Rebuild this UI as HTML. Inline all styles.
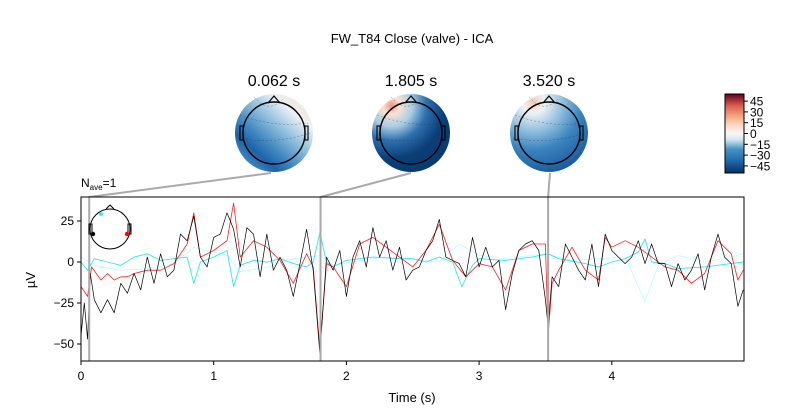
<!DOCTYPE html>
<html><head><meta charset="utf-8"><style>
body{margin:0;background:#fff;}
svg{display:block;font-family:"Liberation Sans","DejaVu Sans",sans-serif;}
</style></head><body>
<svg id="fig" width="800" height="420" viewBox="0 0 800 420" xmlns="http://www.w3.org/2000/svg">
<defs>
<linearGradient id="cbar" x1="0" y1="1" x2="0" y2="0">
<stop offset="0" stop-color="#053061"/><stop offset="0.15" stop-color="#2166ac"/><stop offset="0.3" stop-color="#4393c3"/><stop offset="0.42" stop-color="#d1e5f0"/><stop offset="0.5" stop-color="#f7f7f7"/><stop offset="0.6" stop-color="#fddbc7"/><stop offset="0.72" stop-color="#f4a582"/><stop offset="0.85" stop-color="#d6604d"/><stop offset="1" stop-color="#67001f"/>
</linearGradient>
<linearGradient id="t1" x1="0.85" y1="0.05" x2="0.15" y2="0.85">
<stop offset="0" stop-color="#fbe0d2"/><stop offset="0.2" stop-color="#e9f1f6"/><stop offset="0.45" stop-color="#8dbddc"/><stop offset="0.7" stop-color="#3b84bf"/><stop offset="0.85" stop-color="#1f62a6"/><stop offset="1" stop-color="#3a83be"/>
</linearGradient>
<radialGradient id="t2" cx="0.25" cy="0.15" r="0.9">
<stop offset="0" stop-color="#e8957a"/><stop offset="0.12" stop-color="#f8e2d6"/><stop offset="0.3" stop-color="#a9cde4"/><stop offset="0.5" stop-color="#2d6fae"/><stop offset="0.75" stop-color="#0b3f78"/><stop offset="1" stop-color="#0a3a70"/>
</radialGradient>
<radialGradient id="t3" cx="0.3" cy="0.1" r="0.95">
<stop offset="0" stop-color="#f4c9b2"/><stop offset="0.15" stop-color="#eef3f6"/><stop offset="0.4" stop-color="#8fbedd"/><stop offset="0.65" stop-color="#3a83be"/><stop offset="1" stop-color="#1c5a9a"/>
</radialGradient>
<clipPath id="plotclip"><rect x="81" y="197" width="663" height="164"/></clipPath>
</defs>
<text x="412" y="43" font-size="13" text-anchor="middle">FW_T84 Close (valve) - ICA</text>
<g id="topos"></g>
<g>
<rect x="725" y="94" width="19" height="79" fill="url(#cbar)" stroke="#000" stroke-width="1"/>
<g id="cbticks"></g>
</g>
<g id="connectors"></g>
<text x="81" y="187" font-size="12">N<tspan font-size="8" dy="3">ave</tspan><tspan dy="-3">=1</tspan></text>
<g id="plot"></g>
<text x="412" y="402" font-size="13" text-anchor="middle">Time (s)</text>
<text x="35" y="280" font-size="13" text-anchor="middle" transform="rotate(-90 35 280)">µV</text>
</svg>
<script>
const xTicks=[0,1,2,3,4];
const yTicks=[25,0,-25,-50];
const topoTimes=[0.062,1.805,3.520];
const topoLabels=["0.062 s","1.805 s","3.520 s"];
const cbTickVals=[45,30,15,0,-15,-30,-45];
const cbTickLabels=["45","30","15","0","\u221215","\u221230","\u221245"];
const blackT=[0,0.025,0.05,0.07,0.1,0.15,0.2,0.25,0.3,0.35,0.4,0.45,0.5,0.55,0.6,0.65,0.7,0.75,0.8,0.85,0.9,0.95,1.0,1.05,1.1,1.15,1.2,1.25,1.3,1.35,1.4,1.45,1.5,1.55,1.6,1.65,1.7,1.75,1.8,1.85,1.9,1.95,2.0,2.05,2.1,2.15,2.2,2.25,2.3,2.35,2.4,2.45,2.5,2.55,2.6,2.65,2.7,2.75,2.8,2.85,2.9,2.95,3.0,3.05,3.1,3.15,3.2,3.25,3.3,3.35,3.4,3.45,3.5,3.52,3.55,3.6,3.65,3.7,3.75,3.8,3.85,3.9,3.95,4.0,4.05,4.1,4.15,4.2,4.25,4.3,4.35,4.4,4.45,4.5,4.55,4.6,4.65,4.7,4.75,4.8,4.85,4.9,4.95,4.99];
const blackV=[-45,-25,-47,-7,-23,-31,-23,-31,-13,-19,-7,-17,3,-13,5,-9,-5,17,13,28,3,-3,15,17,30,20,-3,21,17,-9,17,-5,3,-5,-21,-1,20,-5,-56,3,-5,7,-21,3,13,-3,21,3,13,-5,9,-11,-5,-3,7,13,26,3,1,-1,-9,15,-3,9,-3,1,-29,-7,7,11,13,7,-23,-39,-9,-15,11,3,-5,-11,11,-15,17,7,3,-1,3,13,-1,11,-1,-1,-15,-1,-11,-5,5,-17,3,17,3,-1,-27,-17];
const redT=[0,0.05,0.08,0.15,0.2,0.25,0.3,0.35,0.4,0.5,0.6,0.7,0.8,0.85,0.9,1.0,1.1,1.15,1.2,1.3,1.4,1.5,1.6,1.7,1.75,1.8,1.85,1.9,2.0,2.1,2.2,2.3,2.4,2.5,2.6,2.7,2.8,2.9,3.0,3.1,3.2,3.3,3.4,3.5,3.52,3.55,3.6,3.7,3.8,3.9,3.95,4.0,4.1,4.2,4.3,4.4,4.5,4.6,4.7,4.8,4.9,4.95,4.99];
const redV=[-15,-21,-3,-11,-7,-11,-9,-9,-7,-5,-5,-1,11,30,3,7,13,36,3,13,9,1,-13,5,-3,-53,-1,-3,-15,11,15,9,3,-3,7,23,1,-9,-1,-3,-17,7,11,11,-45,-13,-5,9,-5,-11,15,9,13,9,3,-3,-5,-13,-7,13,5,-11,-5];
const cyanT=[0,0.05,0.1,0.2,0.3,0.4,0.5,0.6,0.7,0.8,0.85,0.9,1.0,1.1,1.15,1.2,1.3,1.4,1.5,1.6,1.7,1.75,1.8,1.85,1.9,2.0,2.2,2.4,2.5,2.6,2.7,2.8,2.87,2.95,3.0,3.2,3.4,3.52,3.6,3.8,3.9,4.0,4.1,4.2,4.25,4.3,4.4,4.5,4.7,4.9,4.99];
const cyanV=[0,-5,2,0,-2,3,5,1,2,3,-13,0,3,7,-15,-2,1,0,2,-1,-3,0,18,0,-3,1,3,2,2,0,3,0,-15,-2,2,1,3,5,2,-1,-3,0,2,6,14,0,-1,-4,-3,-1,0];
const paleT=[0,0.1,0.3,0.5,0.7,0.85,1.0,1.1,1.2,1.4,1.6,1.8,1.9,2.1,2.3,2.5,2.7,2.85,3.0,3.2,3.5,3.7,3.9,4.1,4.25,4.35,4.5,4.7,4.9,4.99];
const paleV=[3,-2,-5,-4,-1,9,6,4,-6,-3,2,4,-2,1,3,2,0,11,4,2,5,1,2,3,-24,-2,4,0,3,5];
const X=t=>81+t*132.7;
const Y=v=>262-v*1.64;
const NS='http://www.w3.org/2000/svg';
function mk(tag,attrs,parent){const e=document.createElementNS(NS,tag);for(const k in attrs)e.setAttribute(k,attrs[k]);parent.appendChild(e);return e;}
const plot=document.getElementById('plot');
const frame=mk('rect',{x:81,y:197,width:663,height:164,fill:'#fff',stroke:'none'},plot);


function line(ts,vs,color,w,name){
  const d=ts.map((t,i)=>(i?'L':'M')+X(t).toFixed(1)+','+Y(vs[i]).toFixed(1)).join(' ');
  const p=mk('path',{d:d,fill:'none',stroke:color,'stroke-width':w,'clip-path':'url(#plotclip)','stroke-linejoin':'round'},plot);
  
  
}
line(paleT,paleV,'#b5ffff',0.8,'series-pale-cyan');
line(cyanT,cyanV,'#33e5f0',0.9,'series-cyan');
line(redT,redV,'#ff2020',0.8,'series-red');
line(blackT,blackV,'#000',0.7,'series-black');
topoTimes.forEach((t,i)=>{
  const v=mk('line',{x1:X(t),x2:X(t),y1:197,y2:361,stroke:'#aaa','stroke-width':2},plot);
  
  
});
const border=mk('rect',{x:81,y:197,width:663,height:164,fill:'none',stroke:'#000','stroke-width':1},plot);


xTicks.forEach(t=>{
  mk('line',{x1:X(t),x2:X(t),y1:361,y2:365,stroke:'#000'},plot);
  const tx=mk('text',{x:X(t),y:380,'font-size':12,'text-anchor':'middle'},plot);tx.textContent=t;
  
  
});
yTicks.forEach(v=>{
  mk('line',{x1:77,x2:81,y1:Y(v),y2:Y(v),stroke:'#000'},plot);
  const tx=mk('text',{x:74,y:Y(v)+4,'font-size':12,'text-anchor':'end'},plot);tx.textContent=(v<0?'\u2212'+(-v):v);
  
  
});
const ins=mk('g',{},plot);


mk('circle',{cx:110,cy:229,r:20,fill:'none',stroke:'#000','stroke-width':1},ins);
mk('path',{d:'M106,209 L110,205 L114,209',fill:'none',stroke:'#000'},ins);
mk('rect',{x:89,y:224,width:3,height:10,fill:'none',stroke:'#000'},ins);
mk('rect',{x:128,y:224,width:3,height:10,fill:'none',stroke:'#000'},ins);
mk('circle',{cx:101,cy:214,r:2,fill:'#3ee'},ins);
mk('circle',{cx:93,cy:234,r:2.2,fill:'#000'},ins);
mk('circle',{cx:127,cy:234,r:2.2,fill:'#f00'},ins);
const topos=document.getElementById('topos');
const cx=[274,411,549];
['t1','t2','t3'].forEach((g,i)=>{
  const grp=mk('g',{},topos);
  
  
  const c=cx[i],cy=133;
  mk('circle',{cx:c,cy:cy,r:39,fill:'url(#'+g+')'},grp);
  mk('path',{d:`M${c-34},${cy-18} Q${c},${cy-5} ${c+34},${cy-10} M${c-36},${cy+5} Q${c},${cy+12} ${c+36},${cy} M${c-20},${cy-36} Q${c-5},${cy-18} ${c+10},${cy-35}`,fill:'none',stroke:'#333','stroke-width':0.5,'stroke-dasharray':'2,2',opacity:0.6},grp);
  mk('circle',{cx:c,cy:cy,r:31,fill:'none',stroke:'#000','stroke-width':1.4},grp);
  mk('path',{d:`M${c-6},${cy-30} L${c},${cy-37} L${c+6},${cy-30}`,fill:'none',stroke:'#000','stroke-width':1.2},grp);
  mk('rect',{x:c-34,y:cy-7,width:3,height:14,fill:'none',stroke:'#000','stroke-width':1.1},grp);
  mk('rect',{x:c+31,y:cy-7,width:3,height:14,fill:'none',stroke:'#000','stroke-width':1.1},grp);
  const tt=mk('text',{x:c,y:86,'font-size':16,'text-anchor':'middle'},grp);tt.textContent=topoLabels[i];
  
  
  const ln=mk('path',{d:`M${X(topoTimes[i])},197 L${c-(i==0?3:i==1?0:-1)},173`,fill:'none',stroke:'#aaa','stroke-width':2},document.getElementById('connectors'));
  
  
});
const cbt=document.getElementById('cbticks');
cbTickVals.forEach((v,i)=>{
  const y=133.5-v*0.72;
  mk('line',{x1:744,x2:748,y1:y,y2:y,stroke:'#000'},cbt);
  const tx=mk('text',{x:750,y:y+4.5,'font-size':12},cbt);tx.textContent=cbTickLabels[i];
  
  
});
</script>
</body></html>
